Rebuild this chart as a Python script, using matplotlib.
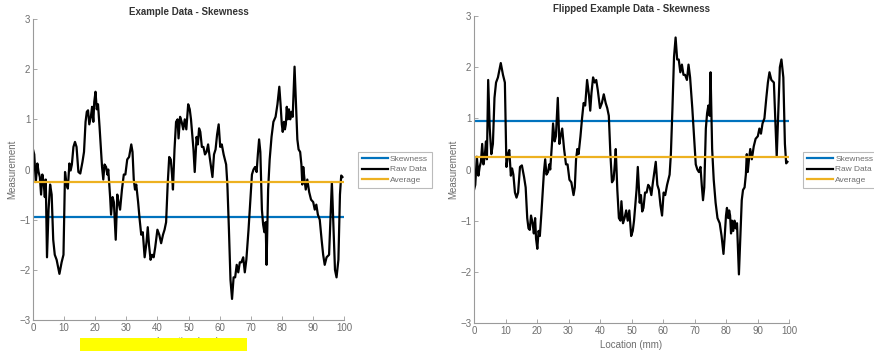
import matplotlib
matplotlib.use("Agg")
import matplotlib.pyplot as plt
from matplotlib.patches import Rectangle

plt.rcParams['font.family'] = ['Liberation Sans', 'DejaVu Sans']

loc_mm = [0, 0.4, 0.9, 1.4, 1.8, 2.2, 2.6, 3.0, 3.4, 3.8, 4.1, 4.5, 5.0, 5.5, 6.0, 6.5, 7.0, 7.6, 8.5, 9.2,
          9.8, 10.3, 10.8, 11.2, 11.7, 12.1, 12.5, 13.0, 13.5, 14.0, 14.6, 15.2, 15.9, 16.4, 16.9, 17.3, 17.7,
          18.1, 18.6, 19.0, 19.4, 19.7, 20.1, 20.5, 20.9, 21.4,
          22.2, 22.6, 23.0, 23.5, 23.9, 24.2, 24.8, 25.1, 25.6, 26.0, 26.6, 27.1, 27.5, 28.0, 28.6, 29.2, 29.7,
          30.3, 30.9, 31.6, 32.0, 32.4, 32.8, 33.2, 33.8, 34.3, 34.8, 35.3, 35.9, 36.5, 36.9, 37.3, 37.8, 38.3,
          38.8, 39.3, 40.0, 40.6, 41.2, 41.8, 42.3, 42.8, 43.3, 43.8, 44.3, 44.7, 45.0, 45.5, 46.0, 46.5, 46.8,
          47.3, 47.8, 48.3, 48.8, 49.3, 49.9, 50.4, 50.8, 51.6, 52.0, 52.6, 53.0, 53.4, 53.8, 54.3, 54.8, 55.3,
          55.8, 56.3, 56.8, 57.7, 58.2, 58.7, 59.2, 59.7, 60.2, 60.7, 61.3, 62.1, 62.5, 63.0, 63.5, 64.0, 64.5,
          65.0, 65.5, 66.0, 66.5, 67.0, 67.6, 68.1, 68.6, 69.3, 69.9, 70.4, 70.9, 71.4, 71.9, 72.3, 72.7, 73.1,
          73.6, 74.0, 74.4, 74.8, 75.1, 75.6, 76.1, 76.7, 77.3, 78.0, 78.6, 79.2, 79.6, 80.0, 80.3, 80.7, 81.0,
          81.3, 81.6, 81.9, 82.3, 82.7, 83.1, 83.5, 84.1, 84.6, 85.0, 85.4, 85.9, 86.3, 86.6, 86.9, 87.3, 87.7,
          88.2, 88.8, 89.4, 90.1, 90.6, 91.1, 91.6, 92.2, 92.8, 93.3, 93.8, 94.4, 95.2, 96.1, 96.6, 97.1, 97.6,
          98.2, 98.7, 99.1, 99.5]
raw = [0.40, 0.30, -0.25, 0.12, -0.05, -0.15, -0.50, -0.10, -0.25, -0.55, -0.20, -1.75, -0.80, -0.30, -0.50,
       -1.40, -1.70, -1.80, -2.08, -1.85, -1.70, -0.05, -0.30, -0.38, 0.12, -0.02, 0.10, 0.45, 0.55, 0.45,
       -0.05, -0.08, 0.15, 0.35, 0.95, 1.15, 1.18, 0.90, 1.05, 1.25, 0.95, 1.35, 1.55, 1.20, 1.30, 0.85,
       0.05, -0.20, 0.10, 0.05, -0.10, 0.00, -0.55, -0.90, -0.55, -0.65, -1.40, -0.50, -0.65, -0.80, -0.40,
       -0.10, -0.10, 0.20, 0.25, 0.50, 0.35, -0.20, -0.40, -0.30, -0.65, -1.00, -1.30, -1.25, -1.75, -1.45,
       -1.15, -1.50, -1.80, -1.70, -1.75, -1.55, -1.20, -1.30, -1.47, -1.30, -1.20, -1.05, -0.30, 0.25, 0.20,
       -0.10, -0.40, 0.40, 0.95, 1.00, 0.62, 1.05, 0.95, 0.80, 1.00, 0.80, 1.30, 1.20, 1.00, 0.40, -0.05,
       0.65, 0.50, 0.82, 0.75, 0.45, 0.45, 0.30, 0.35, 0.50, 0.25, -0.15, 0.30, 0.40, 0.70, 0.90, 0.45, 0.50,
       0.30, 0.10, -0.30, -1.20, -2.20, -2.58, -2.15, -2.15, -1.90, -2.05, -1.85, -1.85, -1.75, -2.05, -1.80,
       -1.20, -0.60, -0.10, 0.00, 0.05, -0.05, 0.30, 0.60, 0.35, -0.80, -1.10, -1.25, -1.05, -1.90, -0.40,
       0.20, 0.65, 0.95, 1.05, 1.30, 1.65, 1.30, 0.90, 0.75, 0.95, 0.80, 0.90, 1.25, 1.00, 1.20, 1.00, 1.15,
       1.05, 2.05, 1.25, 0.60, 0.40, 0.35, 0.10, -0.30, 0.05, -0.20, -0.40, -0.20, -0.45, -0.60, -0.65,
       -0.80, -0.70, -0.90, -1.00, -1.40, -1.70, -1.90, -1.75, -1.70, -0.25, -1.10, -2.00, -2.15, -1.80,
       -0.50, -0.12, -0.15]
flipped = [-v for v in raw]

skew_vals = [-0.95, 0.95]
avg_vals = [-0.25, 0.25]
titles = ["Example Data - Skewness", "Flipped Example Data - Skewness"]

blue = "#0072BD"
orange = "#EDB120"
grey = "#6e6e6e"

fig = plt.figure(figsize=(8.74, 3.51), dpi=100)
ax1 = fig.add_axes([33 / 874, 31 / 351, 311 / 874, 301 / 351])
ax2 = fig.add_axes([474 / 874, 28 / 351, 315 / 874, 307 / 351])

for ax, series, sk, av, title in zip([ax1, ax2], [raw, flipped], skew_vals, avg_vals, titles):
    ax.plot([0, 100], [sk, sk], color=blue, lw=1.6, label="Skewness")
    ax.plot(loc_mm, series, color="black", lw=1.6, label="Raw Data")
    ax.plot([0, 100], [av, av], color=orange, lw=1.6, label="Average")
    ax.set_xlim(0, 100)
    ax.set_ylim(-3, 3)
    ax.set_xticks(range(0, 101, 10))
    ax.set_yticks(range(-3, 4))
    ax.spines["top"].set_visible(False)
    ax.spines["right"].set_visible(False)
    for s in ["left", "bottom"]:
        ax.spines[s].set_color("#9a9a9a")
        ax.spines[s].set_linewidth(0.8)
    ax.tick_params(direction="in", length=3, width=0.6, color="#9a9a9a",
                   labelsize=7, labelcolor=grey, pad=2)
    ax.set_title(title, fontsize=7, fontweight="bold", color="#333333", pad=3)
    ax.set_xlabel("Location (mm)", fontsize=7, color=grey, labelpad=3)
    ax.set_ylabel("Measurement", fontsize=7, color=grey, labelpad=1)
    leg = ax.legend(loc="center left", bbox_to_anchor=(1.045, 0.5), fontsize=6,
                    frameon=True, fancybox=False, handlelength=3.1, handletextpad=0.3,
                    borderpad=0.45, labelspacing=0.3, borderaxespad=0)
    leg.get_frame().set_edgecolor("#aaaaaa")
    leg.get_frame().set_linewidth(0.8)
    for t in leg.get_texts():
        t.set_color(grey)

# yellow highlight over the left x label
fig.patches.append(Rectangle((80 / 874, 0), 167 / 874, 13 / 351, transform=fig.transFigure,
                             facecolor="#FFFF00", edgecolor="none", zorder=10))

fig.savefig("out.png", dpi=100)
plt.close(fig)
